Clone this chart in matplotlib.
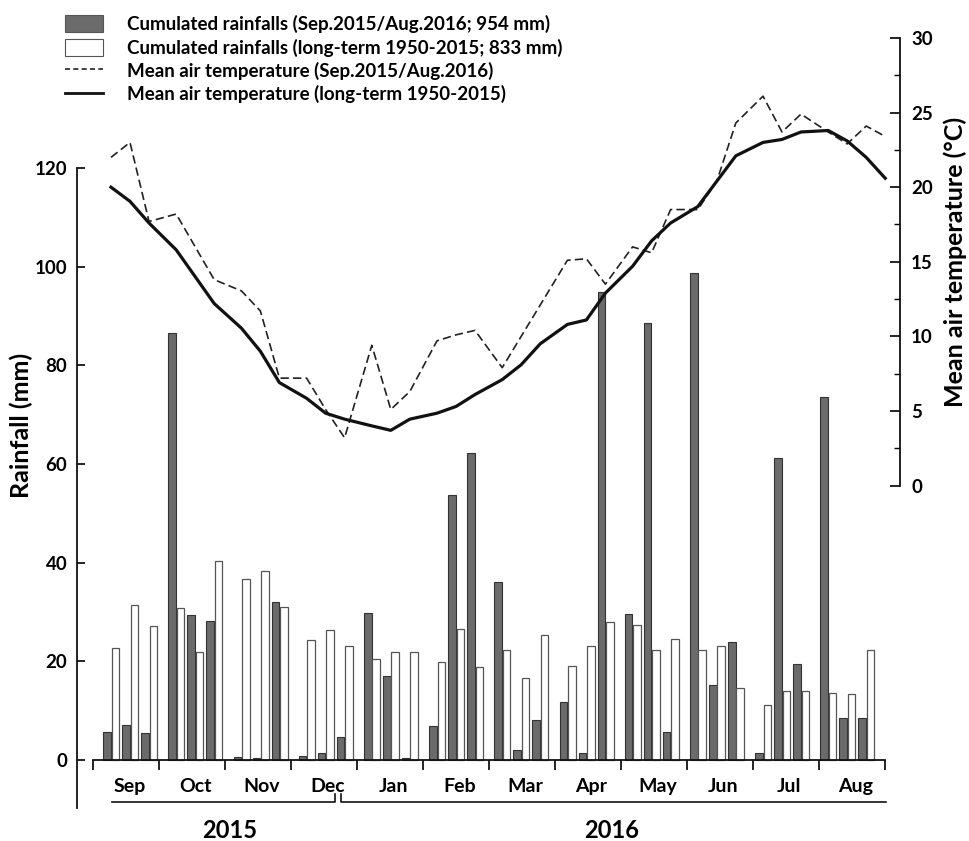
import numpy as np
import matplotlib
matplotlib.use("Agg")
import matplotlib.pyplot as plt
from matplotlib.patches import Patch
from matplotlib.lines import Line2D
from matplotlib.ticker import FixedLocator

plt.rcParams['font.family'] = ['Lato', 'DejaVu Sans']
plt.rcParams['font.weight'] = 'bold'

# ---------------- data ----------------
months = ["Sep", "Oct", "Nov", "Dec", "Jan", "Feb", "Mar", "Apr", "May", "Jun", "Jul", "Aug"]
years = ["2015", "2016"]

# dekad rainfall (mm), Sep 2015 - Aug 2016
rain_2015_16 = [5.6, 7.1, 5.4,  86.6, 29.4, 28.2,  0.7, 0.5, 32.0,  0.9, 1.4, 4.7,
                29.7, 17.0, 0.5,  6.9, 53.8, 62.3,  36.0, 2.0, 8.2,  11.8, 1.4, 94.9,
                29.6, 88.6, 5.7,  98.7, 15.2, 24.0,  1.4, 61.2, 19.4,  73.6, 8.6, 8.6]
rain_longterm = [22.7, 31.4, 27.2,  30.9, 21.8, 40.4,  36.7, 38.4, 31.1,  24.4, 26.4, 23.2,
                 20.5, 21.8, 21.8,  19.9, 26.5, 18.8,  22.2, 16.7, 25.3,  19.0, 23.1, 27.9,
                 27.3, 22.2, 24.5,  22.2, 23.2, 14.5,  11.1, 13.9, 14.0,  13.5, 13.4, 22.2]

# dekad mean air temperature (°C) (37 points, last closes the year)
temp_2015_16 = [22.0, 23.0, 17.7,  18.2, 16.0, 13.8,  13.05, 11.7, 7.2,  7.2, 5.1, 3.2,
                9.4, 5.1, 6.3,  9.7, 10.1, 10.4,  7.9, 10.0, 12.1,  15.1, 15.2, 13.5,
                16.0, 15.6, 18.5,  18.5, 20.4, 24.3,  26.1, 23.7, 24.9,  23.7, 22.9, 24.1,
                23.4]
temp_longterm = [20.0, 19.05, 17.6,  15.8, 14.0, 12.2,  10.55, 9.0, 6.9,  5.85, 4.85, 4.45,
                 4.0, 3.7, 4.45,  4.85, 5.3, 6.1,  7.1, 8.1, 9.5,  10.8, 11.1, 12.9,
                 14.7, 16.4, 17.6,  18.7, 20.4, 22.1,  23.0, 23.2, 23.7,  23.8, 23.1, 22.0,
                 20.6]

legend_labels = ["Cumulated rainfalls (Sep.2015/Aug.2016; 954 mm)",
                 "Cumulated rainfalls (long-term 1950-2015; 833 mm)",
                 "Mean air temperature (Sep.2015/Aug.2016)",
                 "Mean air temperature (long-term 1950-2015)"]

# ---------------- layout ----------------
W, H = 969, 841
fig = plt.figure(figsize=(W / 100, H / 100), dpi=100)
ax = fig.add_axes([77 / W, 33 / H, (900 - 77) / W, (808 - 38) / H])
ax2 = ax.twinx()

GROUP = 65.2 / 66.0
FIRST = 18 / 66.0
DEK = 19 / 66.0
m_idx = np.repeat(np.arange(12), 3)
k_idx = np.tile(np.arange(3), 12)
centers = FIRST + GROUP * m_idx + DEK * k_idx
line_x = np.append(centers, centers[-1] + DEK)

bw = 0.115
ax.bar(centers - 0.062, rain_2015_16, width=bw, color="#6b6b6b", edgecolor="#333333",
       linewidth=0.8, zorder=2)
ax.bar(centers + 0.066, rain_longterm, width=bw, color="white", edgecolor="#555555",
       linewidth=0.9, zorder=2)

ax2.plot(line_x, temp_2015_16, color="#222222", lw=1.2, ls=(0, (5, 2.5)), zorder=3)
ax2.plot(line_x, temp_longterm, color="#111111", lw=2.3, zorder=3)

# axes limits
ax.set_xlim(-16 / 66, 807 / 66)
ax.set_ylim(-(808 - 760) / 4.933, (760 - 38) / 4.933)
ax2.set_ylim(-(808 - 485.5) / 14.92, 30)

# spines
for s in ["top", "right"]:
    ax.spines[s].set_visible(False)
for s in ["top", "left", "bottom"]:
    ax2.spines[s].set_visible(False)
ax.spines["bottom"].set_position(("data", 0))
ax.spines["bottom"].set_bounds(0, 12)
ax.spines["left"].set_bounds(-(808 - 760) / 4.933, 120)
ax2.spines["right"].set_bounds(0, 30)
for sp in [ax.spines["left"], ax.spines["bottom"], ax2.spines["right"]]:
    sp.set_linewidth(1.3)
    sp.set_color("#111111")

# left y ticks
ax.set_yticks(np.arange(0, 121, 20))
ax.tick_params(axis="y", direction="in", length=6, width=1.2, pad=7, labelsize=13.5)
# x ticks: month boundaries, labels at month centers
ax.xaxis.set_major_locator(FixedLocator(np.arange(0, 13)))
ax.xaxis.set_major_formatter(plt.NullFormatter())
ax.xaxis.set_minor_locator(FixedLocator(np.arange(12) + 0.55))
ax.set_xticklabels(months, minor=True)
ax.tick_params(axis="x", which="major", direction="out", length=7, width=1.2)
ax.tick_params(axis="x", which="minor", length=0, pad=13, labelsize=14)

# right y ticks
ax2.set_yticks(np.arange(0, 31, 5))
ax2.yaxis.set_minor_locator(FixedLocator(np.arange(2.5, 30, 5)))
ax2.tick_params(axis="y", which="major", direction="in", length=7, width=1.2, pad=8,
                labelsize=13.5)
ax2.tick_params(axis="y", which="minor", direction="in", length=4, width=1.0)

ax.set_ylabel("Rainfall (mm)", fontsize=18, fontweight="bold")
ax.yaxis.set_label_coords((33 - 77) / 823, (808 - 425) / 770)
ax2.set_ylabel("Mean air temperature (°C)", fontsize=18, fontweight="bold")
ax2.yaxis.set_label_coords((943 - 77) / 823, (808 - 262) / 770)

# year brackets
yb = (760 - 802) / 4.933
yt = (760 - 794) / 4.933
x15a, x15b = (112 - 93) / 66, (335 - 93) / 66
x16a, x16b = (341 - 93) / 66, (886 - 93) / 66
ax.plot([x15a, x15b, x15b], [yb, yb, yt], color="#111111", lw=1.2, clip_on=False)
ax.plot([x16a, x16a, x16b], [yt, yb, yb], color="#111111", lw=1.2, clip_on=False)
ya = (760 - 830) / 4.933
ax.text((230 - 93) / 66, ya, years[0], ha="center", va="center", fontsize=17, fontweight="bold")
ax.text((612 - 93) / 66, ya, years[1], ha="center", va="center", fontsize=17, fontweight="bold")

# legend
handles = [Patch(facecolor="#6b6b6b", edgecolor="#555555", linewidth=0.8),
           Patch(facecolor="white", edgecolor="#555555", linewidth=0.8),
           Line2D([], [], color="#222222", lw=1.2, ls=(0, (3, 2))),
           Line2D([], [], color="#111111", lw=2.0)]
fig.legend(handles, legend_labels, loc="upper left", bbox_to_anchor=(52 / W, 1 - 2 / H),
           frameon=False, fontsize=13.5, handlelength=2.0, handleheight=1.0,
           handletextpad=1.3, labelspacing=0.28, borderpad=0.2)

fig.savefig("out.png", dpi=100)
